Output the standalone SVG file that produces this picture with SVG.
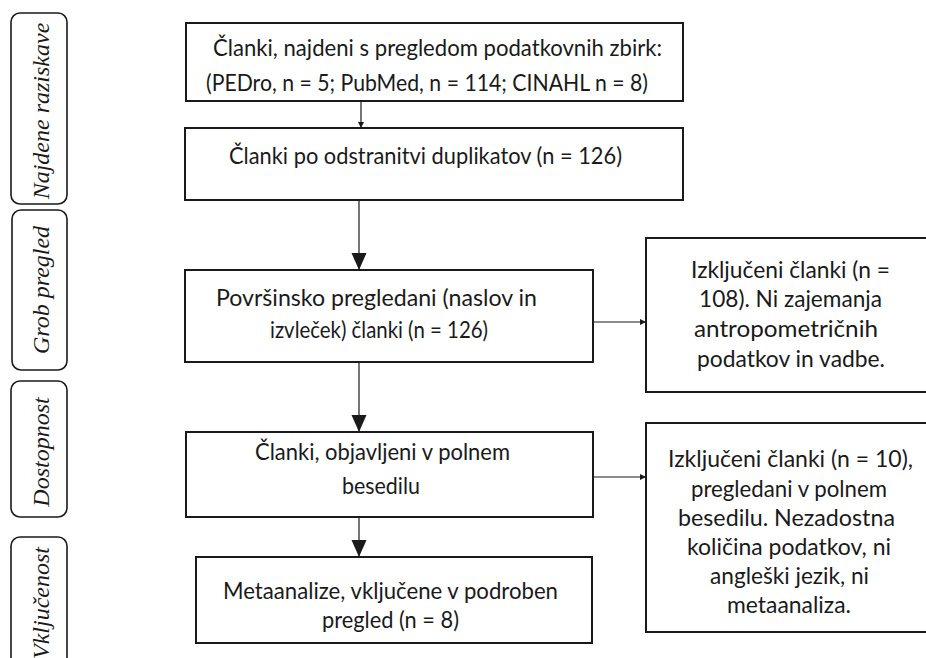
<svg xmlns="http://www.w3.org/2000/svg" width="926" height="658" viewBox="0 0 926 658">
<defs>
<style>
.box{fill:#fff;stroke:#1a1a1a;stroke-width:2}
.side{fill:#fff;stroke:#1a1a1a;stroke-width:1.6}
.t{font-family:Lato,"Liberation Sans",sans-serif;font-size:23px;fill:#1a1a1a}
.s{font-family:"Liberation Serif","DejaVu Serif",serif;font-style:italic;font-size:24px;fill:#1a1a1a;text-anchor:middle}
.ln{stroke:#1a1a1a;stroke-width:1.2;fill:none}
</style>
<marker id="sm" markerWidth="8" markerHeight="8" refX="6" refY="3" orient="auto" markerUnits="userSpaceOnUse"><path d="M0,0 L6,3 L0,6 z" fill="#1a1a1a"/></marker>
<marker id="lg" markerWidth="18" markerHeight="18" refX="17" refY="7.5" orient="auto" markerUnits="userSpaceOnUse"><path d="M0,0 L17,7.5 L0,15 z" fill="#1a1a1a"/></marker>
</defs>
<rect width="926" height="658" fill="#fff"/>

<g id="side-najdene"><rect class="side" x="11" y="13" width="56" height="191" rx="9"/><text class="s" transform="translate(49,111) rotate(-90)">Najdene raziskave</text></g>
<g id="side-grob"><rect class="side" x="12" y="210" width="55" height="160" rx="9"/><text class="s" transform="translate(49,290) rotate(-90)">Grob pregled</text></g>
<g id="side-dostopnost"><rect class="side" x="11" y="381" width="56" height="136" rx="9"/><text class="s" transform="translate(49,452) rotate(-90)">Dostopnost</text></g>
<g id="side-vkljucenost"><rect class="side" x="11" y="537" width="56" height="140" rx="9"/><text class="s" transform="translate(49,603) rotate(-90)">Vključenost</text></g>

<g id="connectors">
<line class="ln" x1="361" y1="101" x2="361" y2="128" marker-end="url(#sm)"/>
<line class="ln" x1="359" y1="200" x2="359" y2="270" marker-end="url(#lg)"/>
<line class="ln" x1="359" y1="362" x2="359" y2="432" marker-end="url(#lg)"/>
<line class="ln" x1="359" y1="517" x2="359" y2="557" marker-end="url(#lg)"/>
<line class="ln" x1="593" y1="322" x2="646" y2="322" marker-end="url(#sm)"/>
<line class="ln" x1="593" y1="477" x2="646" y2="477" marker-end="url(#sm)"/>
</g>

<g id="n-najdeni"><rect class="box" x="186" y="23" width="497" height="78"/>
<text class="t" x="213" y="56" textLength="449" lengthAdjust="spacingAndGlyphs">Članki, najdeni s pregledom podatkovnih zbirk:</text>
<text class="t" x="206" y="91" textLength="442" lengthAdjust="spacingAndGlyphs">(PEDro, n = 5; PubMed, n = 114; CINAHL n = 8)</text></g>

<g id="n-duplikati"><rect class="box" x="185" y="128" width="498" height="72"/>
<text class="t" x="229" y="164" textLength="393" lengthAdjust="spacingAndGlyphs">Članki po odstranitvi duplikatov (n = 126)</text></g>

<g id="n-povrsinsko"><rect class="box" x="185" y="270" width="408" height="92"/>
<text class="t" x="216" y="306" textLength="321" lengthAdjust="spacingAndGlyphs">Površinsko pregledani (naslov in</text>
<text class="t" x="270" y="338" textLength="218" lengthAdjust="spacingAndGlyphs">izvleček) članki (n = 126)</text></g>

<g id="n-izkljuceni1"><rect class="box" x="646" y="238" width="290" height="154"/>
<text class="t" x="691" y="278" textLength="199" lengthAdjust="spacingAndGlyphs">Izključeni članki (n =</text>
<text class="t" x="699" y="307" textLength="183" lengthAdjust="spacingAndGlyphs">108). Ni zajemanja</text>
<text class="t" x="694" y="337" textLength="184" lengthAdjust="spacingAndGlyphs">antropometričnih</text>
<text class="t" x="697" y="367" textLength="188" lengthAdjust="spacingAndGlyphs">podatkov in vadbe.</text></g>

<g id="n-polnem"><rect class="box" x="186" y="432" width="407" height="85"/>
<text class="t" x="255" y="460" textLength="255" lengthAdjust="spacingAndGlyphs">Članki, objavljeni v polnem</text>
<text class="t" x="342" y="494" textLength="78" lengthAdjust="spacingAndGlyphs">besedilu</text></g>

<g id="n-izkljuceni2"><rect class="box" x="646" y="423" width="290" height="209"/>
<text class="t" x="668" y="467" textLength="245" lengthAdjust="spacingAndGlyphs">Izključeni članki (n = 10),</text>
<text class="t" x="691" y="497" textLength="196" lengthAdjust="spacingAndGlyphs">pregledani v polnem</text>
<text class="t" x="678" y="526" textLength="217" lengthAdjust="spacingAndGlyphs">besedilu. Nezadostna</text>
<text class="t" x="687" y="555" textLength="204" lengthAdjust="spacingAndGlyphs">količina podatkov, ni</text>
<text class="t" x="710" y="584" textLength="159" lengthAdjust="spacingAndGlyphs">angleški jezik, ni</text>
<text class="t" x="727" y="613" textLength="124" lengthAdjust="spacingAndGlyphs">metaanaliza.</text></g>

<g id="n-metaanalize"><rect class="box" x="196" y="557" width="396" height="86"/>
<text class="t" x="223" y="599" textLength="335" lengthAdjust="spacingAndGlyphs">Metaanalize, vključene v podroben</text>
<text class="t" x="322" y="628" textLength="137" lengthAdjust="spacingAndGlyphs">pregled (n = 8)</text></g>
</svg>
